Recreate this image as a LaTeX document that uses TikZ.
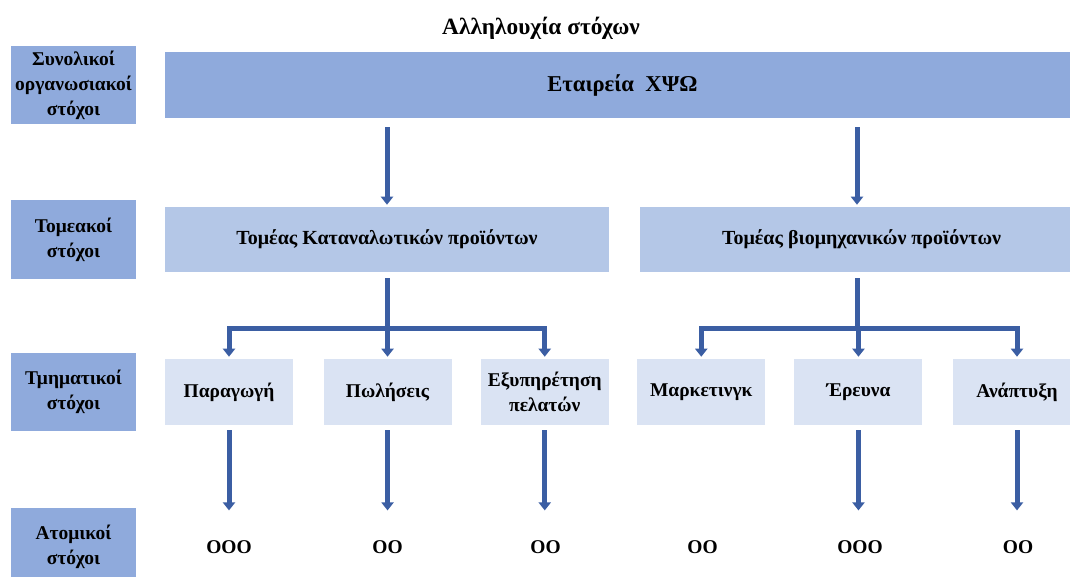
\documentclass[tikz,border=0pt]{standalone}
\usepackage{fontspec}
\setmainfont{Liberation Serif}
\usetikzlibrary{arrows.meta, positioning}
\definecolor{goalblue}{RGB}{143, 170, 220}
\definecolor{sectorblue}{RGB}{180, 199, 231}
\definecolor{deptblue}{RGB}{218, 227, 243}
\definecolor{flowblue}{RGB}{59, 94, 163}

\begin{document}
\begin{tikzpicture}[
    x=0.75pt, y=-0.75pt,
    txt/.style={font=\fontsize{14.6}{18.75}\selectfont\bfseries, align=center},
    level/.style={txt, fill=goalblue, minimum width=93.75pt, minimum height=59pt, inner sep=0pt},
    company/.style={txt, fill=goalblue, minimum width=686pt, minimum height=49.5pt,
                    font=\fontsize{17}{20}\selectfont\bfseries},
    sector/.style={txt, fill=sectorblue, minimum width=333pt, minimum height=48.75pt,
                   font=\fontsize{15}{18.75}\selectfont\bfseries},
    dept/.style={txt, fill=deptblue, minimum width=96pt, minimum height=49.5pt, inner sep=0pt},
    bar/.style={draw=flowblue, line width=3.75pt, line cap=rect},
    flow/.style={draw=flowblue, line width=3.75pt, -{Triangle[width=9pt, length=6pt]}}
]
    \useasboundingbox (0,0) rectangle (1070,577);

    \node[txt, font=\fontsize{17.5}{20}\selectfont\bfseries] (title) at (541,28) {Αλληλουχία στόχων};

    % levels on the left
    \node[level] (lvlA) at (73.5,85) {Συνολικοί\\οργανωσιακοί\\στόχοι};
    \node[level] (lvlB) at (73.5,239.5) {Τομεακοί\\στόχοι};
    \node[level] (lvlC) at (73.5,392) {Τμηματικοί\\στόχοι};
    \node[level] (lvlD) at (73.5,547) {Ατομικοί\\στόχοι};

    \node[company] (firm) at (622.5,85) {Εταιρεία\ \ ΧΨΩ};

    \node[sector] (secL) at (387,239.5) {Τομέας Καταναλωτικών προϊόντων};
    \node[sector, right=22.5pt of secL] (secR) {Τομέας βιομηχανικών προϊόντων};

    \node[dept] (prod) at (229,392) {Παραγωγή};
    \node[dept, right=22.5pt of prod] (sales) {Πωλήσεις};
    \node[dept, right=21.5pt of sales] (serv) {Εξυπηρέτηση\\πελατών};
    \node[dept, right=21pt of serv] (mkt) {Μαρκετινγκ};
    \node[dept, right=21.5pt of mkt] (res) {Έρευνα};
    \node[dept, right=22.5pt of res] (dev) {Ανάπτυξη};

    \node[txt] (oProd) at (229,547) {OOO};
    \node[txt] (oSales) at (387.5,547) {OO};
    \node[txt] (oServ) at (545.5,547) {OO};
    \node[txt] (oMkt) at (702.5,547) {OO};
    \node[txt] (oRes) at (860,547) {OOO};
    \node[txt] (oDev) at (1018,547) {OO};

    \coordinate (barL) at (387,328);
    \coordinate (barR) at (857,328);

    % company to sectors
    \draw[flow, shorten <=6.75pt, shorten >=1.5pt] (secL.north |- firm.south) -- (secL.north);
    \draw[flow, shorten <=6.75pt, shorten >=1.5pt] (barR |- firm.south) -- (barR |- secR.north);

    % sectors to departments
    \draw[bar, shorten <=4.5pt, line cap=butt] (secL.south) -- (barL);
    \draw[bar] (prod.north |- barL) -- (serv.north |- barL);
    \draw[bar, shorten <=4.5pt, line cap=butt] (barR |- secR.south) -- (barR);
    \draw[bar] (mkt.north |- barR) -- (dev.north |- barR);
    \foreach \d in {prod, sales, serv, mkt, res, dev}
        \draw[flow, shorten >=1.5pt] (\d.north |- barL) -- (\d.north);

    % departments to individual goals
    \foreach \d/\o in {prod/oProd, sales/oSales, serv/oServ, res/oRes, dev/oDev}
        \draw[flow, shorten <=3.75pt, shorten >=19pt] (\d.south) -- (\d.south |- \o.north);
\end{tikzpicture}
\end{document}
